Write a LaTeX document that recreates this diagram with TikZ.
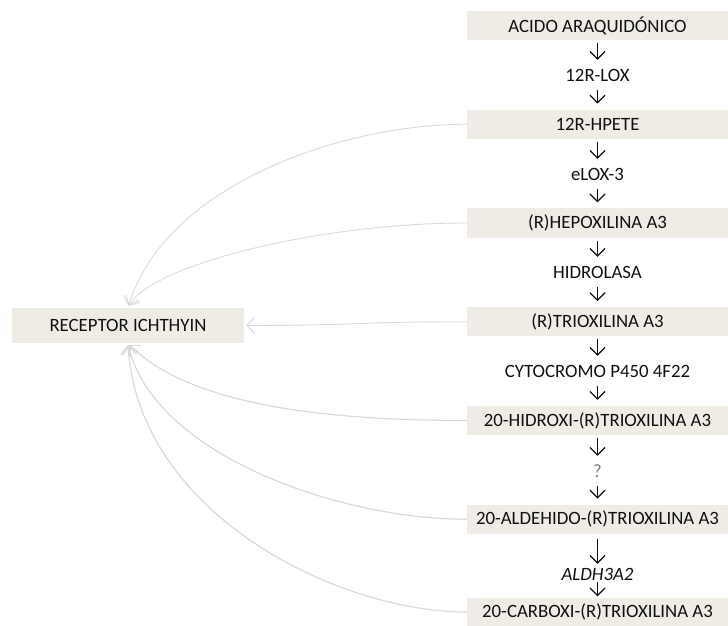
\documentclass[tikz,border=0pt]{standalone}
\usepackage{fontspec}
\setmainfont{Carlito}
\usetikzlibrary{arrows.meta}
\definecolor{boxfill}{HTML}{EEECE5}
\definecolor{ink}{HTML}{111111}
\definecolor{linkgray}{HTML}{DADADA}
\begin{document}
\begin{tikzpicture}[x=1bp,y=-1bp,
  every node/.style={font=\fontsize{18.8bp}{22bp}\selectfont, text=ink},
  compound/.style={fill=boxfill, minimum width=261bp, minimum height=29bp, inner sep=0pt},
  enzyme/.style={minimum height=30bp, inner sep=0pt},
  flow/.style={draw=ink, line width=1.2bp, -{Straight Barb[length=7.5bp,width=15bp]}},
  intoenz/.style={shorten <=3bp},
  outofenz/.style={shorten >=6bp},
  link/.style={draw=linkgray, line width=0.9bp, -{Straight Barb[length=8bp,width=16bp]}, shorten >=2bp},
  heavylink/.style={link, line width=1.2bp}]
\useasboundingbox (0,0) rectangle (728,626);
\clip (0,0) rectangle (728,626);

% pathway column
\node[compound] (b0) at (597.5,25.5) {ACIDO ARAQUIDÓNICO};
\node[enzyme]   (l0) at (597.5,75) {12R-LOX};
\node[compound] (b1) at (597.5,124.25) {12R-HPETE};
\node[enzyme]   (l1) at (597.5,174) {eLOX-3};
\node[compound] (b2) at (597.5,223) {(R)HEPOXILINA A3};
\node[enzyme]   (l2) at (597.5,272) {HIDROLASA};
\node[compound] (b3) at (597.5,321.75) {(R)TRIOXILINA A3};
\node[enzyme]   (l3) at (597.5,371) {CYTOCROMO P450 4F22};
\node[compound] (b4) at (597.5,420.5) {20-HIDROXI-(R)TRIOXILINA A3};
\node[enzyme, text=gray]   (l4) at (597.5,471) {?};
\node[compound] (b5) at (597.5,519.25) {20-ALDEHIDO-(R)TRIOXILINA A3};
\node[enzyme, minimum height=20bp] (l5) at (597.5,574) {\itshape ALDH3A2};
\node[compound] (b6) at (597.5,612) {20-CARBOXI-(R)TRIOXILINA A3};

% receptor
\node[fill=boxfill, minimum width=232bp, minimum height=35bp, inner sep=0pt] (rec) at (128,325.5) {RECEPTOR ICHTHYIN};

% pathway arrows
\foreach \a/\e/\b in {b0/l0/b1, b1/l1/b2, b2/l2/b3, b3/l3/b4, b4/l4/b5} {
  \draw[flow, intoenz] (\a) -- (\e);
  \draw[flow, outofenz] (\e) -- (\b);
}
\draw[flow, shorten <=5bp] (b5) -- (l5);
\draw[flow, shorten <=-2bp, shorten >=1bp] (l5) -- (b6);

% links to the receptor
\draw[link] (b1.west) .. controls +(-130,0) and +(36,-120) .. (rec.north);
\draw[link] (b2.west) .. controls +(-150,0) and +(22,-42) .. (rec.north);
\draw[link] (b3.west) .. controls +(-110,0) and +(110,0) .. (rec.east);
\draw[heavylink] (b4.west) .. controls +(-150,0) and +(60,60) .. (rec.south);
\draw[heavylink] (b5.west) .. controls +(-130,0) and +(25,110) .. (rec.south);
\draw[heavylink] (b6.west) .. controls +(-130,0) and +(10,170) .. (rec.south);
\end{tikzpicture}
\end{document}
